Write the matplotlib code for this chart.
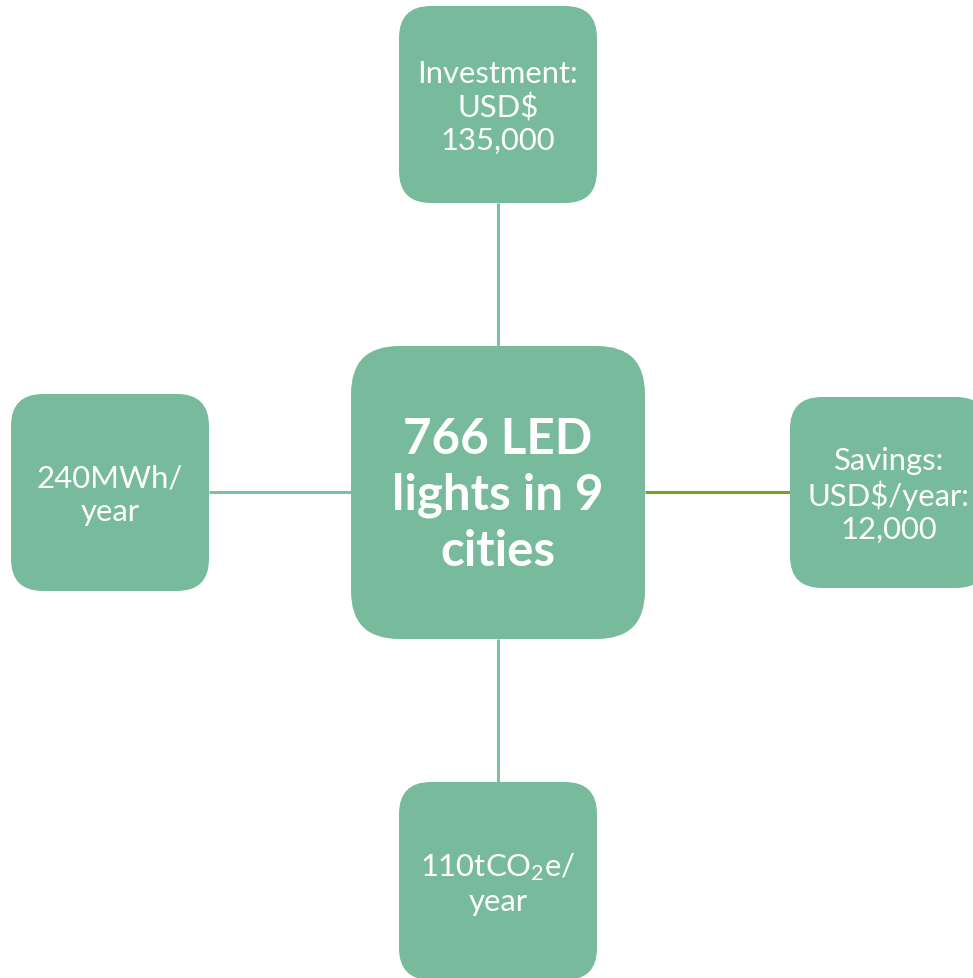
import matplotlib
matplotlib.use("Agg")
import matplotlib.pyplot as plt
from matplotlib.patches import FancyBboxPatch

plt.rcParams['font.family'] = ['Lato', 'DejaVu Sans']
plt.rcParams['mathtext.fontset'] = 'custom'
plt.rcParams['mathtext.rm'] = 'Lato'
plt.rcParams['mathtext.it'] = 'Lato'

# Node texts
center_label = "766 LED\nlights in 9\ncities"
node_labels = ["Investment:\nUSD$\n135,000",
               "Savings:\nUSD$/year:\n12,000",
               "110tCO$_2$e/\nyear",
               "240MWh/\nyear"]

# Layout (pixels)
W, H = 973, 979
fill = '#78BB9C'
line_c = '#7CC2A2'
line_right = '#77A02A'

center_box = (351, 347, 294, 293)
node_boxes = [(399, 7, 198, 197), (790, 398, 198, 191), (399, 783, 198, 198), (11, 395, 198, 197)]
connectors = [((498, 204), (498, 347), line_c),
              ((645, 493), (790, 493), line_right),
              ((498, 640), (498, 783), line_c),
              ((209, 493), (351, 493), line_c)]

fig = plt.figure(figsize=(W / 100, H / 100), dpi=100)
ax = fig.add_axes([0, 0, 1, 1])
ax.set_xlim(0, W)
ax.set_ylim(H, 0)
ax.axis('off')

for (x0, y0), (x1, y1), c in connectors:
    ax.plot([x0, x1], [y0, y1], color=c, lw=2.2, solid_capstyle='butt', zorder=1)

def rbox(x, y, w, h, r):
    p = FancyBboxPatch((x + r, y + r), w - 2 * r, h - 2 * r,
                       boxstyle=f"round,pad={r}", fc=fill, ec='none', zorder=2)
    ax.add_patch(p)

x, y, w, h = center_box
rbox(x, y, w, h, 48)
ax.text(x + w / 2, y + h / 2 + 2, center_label, ha='center', va='center', color='white',
        fontsize=35.5, fontweight='bold', linespacing=1.28, zorder=3)

for (x, y, w, h), lab in zip(node_boxes, node_labels):
    rbox(x, y, w, h, 32)
    ax.text(x + w / 2, y + h / 2 + 2, lab, ha='center', va='center', color='white',
            fontsize=22.3, linespacing=1.22, zorder=3)

fig.savefig('out.png', dpi=100)
